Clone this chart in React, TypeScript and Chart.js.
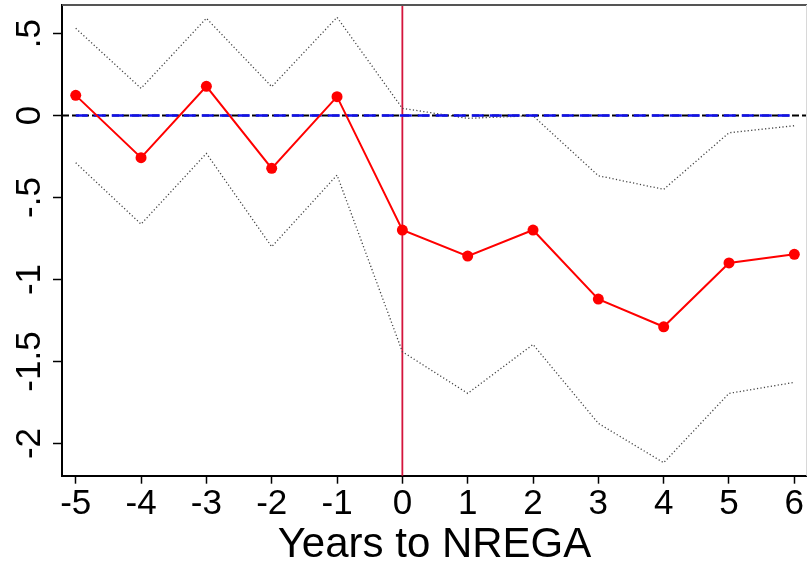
import React, { useEffect, useRef } from 'react';
import { Chart, registerables } from 'chart.js';

Chart.register(...registerables);

// Event-study estimates, years relative to NREGA
const years = [-5, -4, -3, -2, -1, 0, 1, 2, 3, 4, 5, 6];
const estimates = [0.123, -0.257, 0.178, -0.322, 0.115, -0.698, -0.857, -0.698, -1.119, -1.288, -0.899, -0.846];
const upperCI = [0.532, 0.166, 0.593, 0.176, 0.599, 0.044, -0.017, -0.001, -0.367, -0.45, -0.105, -0.062];
const lowerCI = [-0.288, -0.662, -0.231, -0.8, -0.363, -1.44, -1.694, -1.396, -1.877, -2.117, -1.694, -1.627];
const zeroSeries = [0, 0, 0, 0, 0, 0, 0, 0, 0, 0, 0, 0];

const xTicks = [-5, -4, -3, -2, -1, 0, 1, 2, 3, 4, 5, 6];
const yTicks = [-2, -1.5, -1, -0.5, 0, 0.5];
const yTickLabels = ['-2', '-1.5', '-1', '-.5', '0', '.5'];
const xTitle = 'Years to NREGA';
const eventYear = 0;
const refLevel = 0;

const FONT = '"Liberation Sans", Arial, Helvetica, sans-serif';

const toPoints = (vals: number[]) => years.map((x, i) => ({ x, y: vals[i] }));

// zero reference line, treatment line and plot frame
const refLines = {
  id: 'refLines',
  beforeDatasetsDraw(chart: any) {
    const { ctx, chartArea, scales } = chart;
    const y0 = scales.y.getPixelForValue(refLevel);
    const x0 = scales.x.getPixelForValue(eventYear);
    ctx.save();
    ctx.strokeStyle = '#000';
    ctx.lineWidth = 2;
    ctx.setLineDash([7, 3]);
    ctx.beginPath();
    ctx.moveTo(chartArea.left, y0);
    ctx.lineTo(chartArea.right, y0);
    ctx.stroke();
    ctx.setLineDash([]);
    ctx.strokeStyle = '#d4143c';
    ctx.lineWidth = 1.8;
    ctx.beginPath();
    ctx.moveTo(x0, chartArea.top);
    ctx.lineTo(x0, chartArea.bottom);
    ctx.stroke();
    // top and right frame
    ctx.strokeStyle = '#555';
    ctx.lineWidth = 2;
    ctx.beginPath();
    ctx.moveTo(chartArea.left, chartArea.top);
    ctx.lineTo(chartArea.right, chartArea.top);
    ctx.stroke();
    ctx.strokeStyle = '#d8d8d8';
    ctx.lineWidth = 1;
    ctx.beginPath();
    ctx.moveTo(chartArea.right - 0.5, chartArea.top);
    ctx.lineTo(chartArea.right - 0.5, chartArea.bottom);
    ctx.stroke();
    ctx.restore();
  },
};

const App: React.FC = () => {
  const canvasRef = useRef<HTMLCanvasElement>(null);
  const chartRef = useRef<Chart | null>(null);

  useEffect(() => {
    document.body.style.margin = '0';
    if (!canvasRef.current) return;
    if (chartRef.current) chartRef.current.destroy();

    const ciStyle = {
      borderColor: '#444',
      borderWidth: 1.3,
      borderDash: [1.2, 2.3],
      pointRadius: 0,
      fill: false,
      tension: 0,
    };

    chartRef.current = new Chart(canvasRef.current, {
      type: 'line',
      data: {
        datasets: [
          {
            label: 'Estimate',
            data: toPoints(estimates),
            borderColor: '#ff0000',
            backgroundColor: '#ff0000',
            borderWidth: 2,
            pointRadius: 5.5,
            pointBorderWidth: 0,
            tension: 0,
            order: 1,
          },
          {
            label: 'Zero',
            data: toPoints(zeroSeries),
            borderColor: '#1010ee',
            borderWidth: 2.6,
            borderDash: [12, 6],
            pointRadius: 0,
            order: 2,
          },
          { label: 'Upper', data: toPoints(upperCI), ...ciStyle, order: 3 },
          { label: 'Lower', data: toPoints(lowerCI), ...ciStyle, order: 4 },
        ] as any,
      },
      options: {
        animation: false,
        responsive: false,
        devicePixelRatio: 1,
        layout: { autoPadding: false, padding: { top: 5, right: 0, left: 0, bottom: 0 } },
        plugins: {
          legend: { display: false },
          tooltip: { enabled: false },
        },
        scales: {
          x: {
            type: 'linear',
            min: -5.21,
            max: 6.194,
            afterBuildTicks: (s: any) => {
              s.ticks = xTicks.map((v) => ({ value: v }));
            },
            afterFit: (s: any) => {
              s.height = 95.3;
              s.paddingLeft = 0;
              s.paddingRight = 0;
            },
            ticks: {
              autoSkip: false,
              maxRotation: 0,
              padding: 0,
              color: '#000',
              font: { family: FONT, size: 35 },
              callback: (v: any) => String(v),
            },
            grid: {
              drawOnChartArea: false,
              drawTicks: true,
              tickLength: 8,
              tickColor: '#000',
              tickWidth: 1.5,
            },
            border: { display: true, color: '#000', width: 2 },
            title: {
              display: true,
              text: xTitle,
              color: '#000',
              font: { family: FONT, size: 42, lineHeight: 1.2 },
              padding: { top: 0, bottom: 0 },
            },
          },
          y: {
            type: 'linear',
            min: -2.196,
            max: 0.674,
            afterBuildTicks: (s: any) => {
              s.ticks = yTicks.map((v) => ({ value: v }));
            },
            afterFit: (s: any) => {
              s.width = 62;
              s.paddingTop = 0;
              s.paddingBottom = 0;
            },
            ticks: {
              autoSkip: false,
              minRotation: 90,
              maxRotation: 90,
              crossAlign: 'center',
              padding: -7,
              color: '#000',
              font: { family: FONT, size: 35 },
              callback: (_v: any, i: number) => yTickLabels[i],
            },
            grid: {
              drawOnChartArea: false,
              drawTicks: true,
              tickLength: 9,
              tickColor: '#000',
              tickWidth: 1.5,
            },
            border: { display: true, color: '#000', width: 2 },
          },
        },
      } as any,
      plugins: [refLines],
    });

    return () => {
      if (chartRef.current) {
        chartRef.current.destroy();
        chartRef.current = null;
      }
    };
  }, []);

  return (
    <div style={{ position: 'absolute', left: 0, top: 0, width: 807, height: 571, background: '#fff' }}>
      <canvas ref={canvasRef} width={807} height={571} style={{ width: 807, height: 571 }} />
    </div>
  );
};

export default App;
